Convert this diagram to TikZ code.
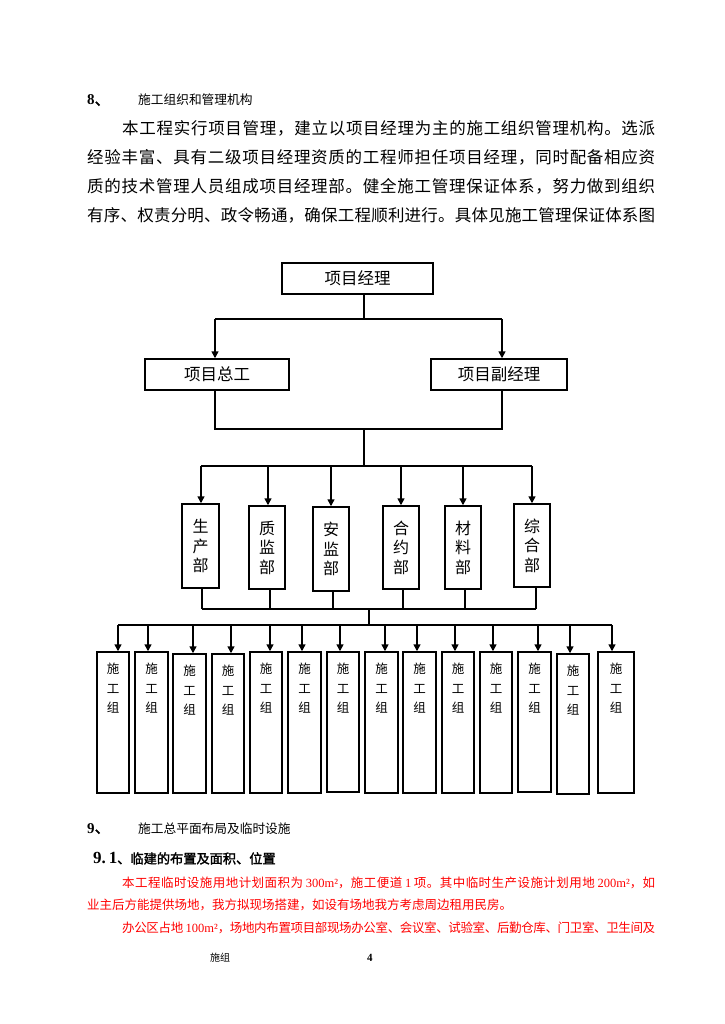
\documentclass[tikz,border=0pt]{standalone}
\usepackage{fontspec}
\setmainfont{Liberation Serif}
\newfontfamily\cjk{Noto Sans CJK SC}[AutoFakeBold=2]
\usetikzlibrary{arrows.meta}
\newXeTeXintercharclass\cjkcls
\newcount\cjkcnt
\cjkcnt="3000 \loop\XeTeXcharclass\cjkcnt=\cjkcls \advance\cjkcnt by 1 \ifnum\cjkcnt<"3040 \repeat
\cjkcnt="4E00 \loop\XeTeXcharclass\cjkcnt=\cjkcls \advance\cjkcnt by 1 \ifnum\cjkcnt<"A000 \repeat
\cjkcnt="FF00 \loop\XeTeXcharclass\cjkcnt=\cjkcls \advance\cjkcnt by 1 \ifnum\cjkcnt<"FFF0 \repeat
\XeTeXinterchartoks\cjkcls\cjkcls={\hskip 0pt plus 0.4em minus 0.15em\relax}
\XeTeXinterchartokenstate=1
\newcommand\gapLC{\hskip 2.5pt plus 2pt minus 1pt\relax}
\tikzset{
  box/.style={draw, line width=1.5pt, inner sep=0pt},
  conn/.style={line width=1.5pt},
  arr/.style={conn, -{Triangle[length=7pt,width=7pt]}},
  txt/.style={inner sep=0pt, anchor=base west},
  para/.style={txt, font=\cjk\fontsize{16.5}{20}\selectfont},
  redtxt/.style={txt, text=red, font=\fontsize{12.5}{15}\selectfont},
  toptxt/.style={font=\cjk\fontsize{16.5}{20}\selectfont},
  depttxt/.style={inner sep=0pt, align=center, font=\cjk\fontsize{16}{19.5}\selectfont},
  gtxt/.style={inner sep=0pt, align=center, font=\cjk\fontsize{12.5}{19.5}\selectfont},
}
\begin{document}
\begin{tikzpicture}[x=1pt,y=-1pt]
\path[use as bounding box, fill=white] (0,0) rectangle (724,1024);

% heading 8
\node[txt] (h8) at (87,105) {\fontsize{15}{18}\selectfont\bfseries 8{\cjk\bfseries 、}};
\node[txt, font=\cjk\fontsize{12.7}{15}\selectfont] (h8t) at (138,105) {施工组织和管理机构};

% paragraph
\node[para] (p1) at (122,134.3) {\makebox[533pt][s]{本工程实行项目管理，建立以项目经理为主的施工组织管理机构。选派}};
\node[para] (p2) at (87,163.3) {\makebox[568pt][s]{经验丰富、具有二级项目经理资质的工程师担任项目经理，同时配备相应资}};
\node[para] (p3) at (87,192.3) {\makebox[568pt][s]{质的技术管理人员组成项目经理部。健全施工管理保证体系，努力做到组织}};
\node[para] (p4) at (87,221.3) {\makebox[568pt][s]{有序、权责分明、政令畅通，确保工程顺利进行。具体见施工管理保证体系图}};

% top level
\node[box, minimum width=151pt, minimum height=31pt, toptxt] (A) at (357.5,278.5) {项目经理};
\node[box, minimum width=144pt, minimum height=31pt, toptxt] (B) at (217,374.5) {项目总工};
\node[box, minimum width=136pt, minimum height=31pt, toptxt] (C) at (499,374.5) {项目副经理};

\coordinate (j0) at (364,319);
\coordinate (jB) at (215,319);
\coordinate (jC) at (502,319);
\draw[conn] (A.south -| j0) -- (j0);
\draw[conn] (jB) -- (jC);
\draw[arr] (jB) -- (jB |- B.north);
\draw[arr] (jC) -- (jC |- C.north);
\coordinate (kB) at (215,429);
\coordinate (kC) at (502,429);
\coordinate (k0) at (364,429);
\coordinate (m0) at (364,466);
\draw[conn] (B.south -| kB) -- (kB) -- (kC) -- (C.south -| kC);
\draw[conn] (k0) -- (m0);

% departments
\foreach \i/\cx/\cy/\w/\h/\ax/\bx/\txt in {
  1/200.5/546/37/84/201/202/生\\产\\部,
  2/267/547.5/36/83/268/270/质\\监\\部,
  3/331/549/36/84/331/333/安\\监\\部,
  4/401/547.5/36/83/401/403/合\\约\\部,
  5/463/547.5/36/83/463/465/材\\料\\部,
  6/532/545.5/36/83/532/536/综\\合\\部}{
  \node[box, minimum width=\w*1pt, minimum height=\h*1pt] (D\i) at (\cx,\cy) {};
  \node[depttxt] (DT\i) at (D\i.center) {\txt};
  \coordinate (m\i) at (\ax,466);
  \coordinate (n\i) at (\bx,609);
  \draw[arr] (m\i) -- (m\i |- D\i.north);
  \draw[conn] (D\i.south -| n\i) -- (n\i);
}
\draw[conn] (m1) -- (m6);
\draw[conn] (n1) -- (n6);
\coordinate (q0) at (369,609);
\coordinate (q1) at (369,625);
\draw[conn] (q0) -- (q1);

% construction groups
\foreach \i/\cx/\cy/\w/\h/\ax in {
  1/113/722.5/32/141/118,
  2/151.5/722.5/33/141/148,
  3/189.5/723.5/33/139/193,
  4/228/723.5/32/139/231,
  5/266/722.5/32/141/270,
  6/304.5/722.5/33/141/302,
  7/343/722/32/140/340,
  8/381.5/722.5/33/141/385,
  9/419.5/722.5/33/141/417,
  10/458/722.5/32/141/455,
  11/496/722.5/32/141/493,
  12/534.5/722/33/140/538,
  13/573/724/32/140/570,
  14/616/722.5/36/141/612}{
  \node[box, minimum width=\w*1pt, minimum height=\h*1pt] (G\i) at (\cx,\cy) {};
  \node[gtxt, yshift=-37pt] (GT\i) at (G\i.north) {施\\工\\组};
  \coordinate (b\i) at (\ax,625);
  \draw[arr] (b\i) -- (b\i |- G\i.north);
}
\draw[conn] (b1) -- (b14);

% heading 9
\node[txt] (h9) at (87,833) {\fontsize{15}{18}\selectfont\bfseries 9{\cjk\bfseries 、}};
\node[txt, font=\cjk\fontsize{12.7}{15}\selectfont] (h9t) at (138,833) {施工总平面布局及临时设施};
\node[txt] (h91) at (93,863.5) {\fontsize{17}{20}\selectfont\bfseries 9.\,1{\cjk\fontsize{13.2}{16}\selectfont\bfseries 、临建的布置及面积、位置}};

% red text
\node[redtxt] (r1) at (122,887.75) {\makebox[533pt][s]{{\cjk 本工程临时设施用地计划面积为}\gapLC 300m²{\cjk ，施工便道}\gapLC 1\gapLC{\cjk 项。其中临时生产设施计划用地}\gapLC 200m²{\cjk ，如}}};
\node[redtxt] (r2) at (87,909.75) {{\cjk 业主后方能提供场地，我方拟现场搭建，如设有场地我方考虑周边租用民房。}};
\node[redtxt] (r3) at (122,932.75) {\makebox[533pt][s]{{\cjk 办公区占地}\gapLC 100m²{\cjk ，场地内布置项目部现场办公室、会议室、试验室、后勤仓库、门卫室、卫生间及}}};

% footer
\node[txt, font=\cjk\fontsize{10}{12}\selectfont] (f1) at (210,961.8) {施组};
\node[txt] (f2) at (367,961.7) {\fontsize{11}{13}\selectfont\bfseries 4};
\end{tikzpicture}
\end{document}
